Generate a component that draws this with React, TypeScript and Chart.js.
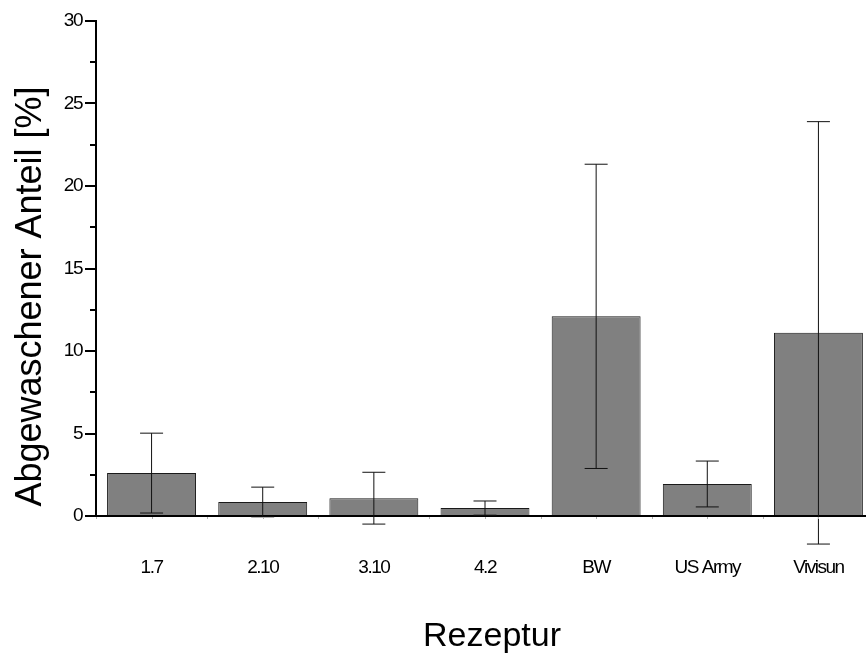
import React, { useEffect, useRef } from 'react';
import { Chart, registerables } from 'chart.js';

Chart.register(...registerables);

const categories: string[] = ['1.7', '2.10', '3.10', '4.2', 'BW', 'US Army', 'Vivisun'];
const means: number[] = [2.6, 0.85, 1.08, 0.48, 12.1, 1.94, 11.1];
const errors: number[] = [2.42, 0.9, 1.57, 0.43, 9.22, 1.39, 12.8];
const yMin = 0;
const yMax = 30;
const yStep = 5;
const yTitle = 'Abgewaschener Anteil [%]';
const xTitle = 'Rezeptur';

const FONT = "'Liberation Sans', Arial, Helvetica, sans-serif";

const errorBarsPlugin = {
  id: 'errorBars',
  afterDatasetsDraw(chart: any) {
    const { ctx, scales } = chart;
    const x = scales.x;
    const y = scales.y;
    const meta = chart.getDatasetMeta(0);
    ctx.save();
    // error bars
    ctx.strokeStyle = '#111';
    ctx.lineWidth = 1;
    meta.data.forEach((bar: any, i: number) => {
      const cx = bar.x;
      const top = y.getPixelForValue(means[i] + errors[i]);
      const bot = y.getPixelForValue(means[i] - errors[i]);
      const half = 11.5;
      ctx.beginPath();
      ctx.moveTo(cx, top);
      ctx.lineTo(cx, bot);
      ctx.moveTo(cx - half, top);
      ctx.lineTo(cx + half, top);
      ctx.moveTo(cx - half, bot);
      ctx.lineTo(cx + half, bot);
      ctx.stroke();
    });
    // minor ticks on y axis
    ctx.strokeStyle = '#000';
    ctx.lineWidth = 2;
    for (let v = yMin + yStep / 2; v < yMax; v += yStep) {
      const py = Math.round(y.getPixelForValue(v));
      ctx.beginPath();
      ctx.moveTo(y.right - 6, py);
      ctx.lineTo(y.right, py);
      ctx.stroke();
    }
    // faint ticks on x axis (centres and boundaries)
    ctx.strokeStyle = '#b0b0b0';
    ctx.lineWidth = 1;
    const step = x.width / categories.length;
    const by = y.getPixelForValue(yMin);
    categories.forEach((_c, i) => {
      const c = x.getPixelForValue(i);
      [c, c - step / 2].forEach((px) => {
        ctx.beginPath();
        ctx.moveTo(Math.round(px) + 0.5, by + 1);
        ctx.lineTo(Math.round(px) + 0.5, by + 3);
        ctx.stroke();
      });
    });

    // axis titles
    ctx.fillStyle = '#000';
    ctx.font = `36px ${FONT}`;
    ctx.textAlign = 'center';
    ctx.textBaseline = 'alphabetic';
    ctx.save();
    ctx.translate(41, (y.top + y.bottom) / 2 + 28);
    ctx.rotate(-Math.PI / 2);
    ctx.fillText(yTitle, 0, 0);
    ctx.restore();
    ctx.font = `34px ${FONT}`;
    ctx.fillText(xTitle, (x.left + x.right) / 2 + 7, 646);

    ctx.restore();
    ctx.letterSpacing = '-1.5px';
  },
  afterDraw(chart: any) {
    chart.ctx.letterSpacing = '0px';
  },
};

export default function App() {
  const ref = useRef<HTMLCanvasElement | null>(null);
  useEffect(() => {
    if (!ref.current) return;
    Chart.defaults.font.family = FONT;
    const chart = new Chart(ref.current, {
      type: 'bar',
      data: {
        labels: categories,
        datasets: [
          {
            data: means,
            backgroundColor: '#808080',
            borderColor: '#1a1a1a',
            borderWidth: 1,
            categoryPercentage: 0.8,
            barPercentage: 1,
          },
        ],
      },
      options: {
        animation: false,
        responsive: false,
        maintainAspectRatio: false,
        layout: { padding: { top: 21, left: 0, right: 0, bottom: 0 } },
        plugins: { legend: { display: false }, tooltip: { enabled: false } },
        scales: {
          x: {
            offset: true,
            grid: { display: false, drawTicks: true, tickLength: 40 },
            border: { display: true, color: '#000', width: 2 },
            ticks: {
              color: '#000',
              font: { family: FONT, size: 19 },
              padding: 0,
              maxRotation: 0,
              autoSkip: false,
              z: 1,
            },
            title: { display: false, text: xTitle },
            afterFit: (s: any) => {
              s.height = 139;
              s.paddingLeft = 0;
              s.paddingRight = 0;
            },
          },
          y: {
            min: yMin,
            max: yMax,
            ticks: {
              stepSize: yStep,
              color: '#000',
              font: { family: FONT, size: 19 },
              padding: 3,
              z: 1,
            },
            grid: {
              drawOnChartArea: false,
              drawTicks: true,
              tickLength: 11,
              color: '#000',
              lineWidth: 2,
            },
            border: { display: true, color: '#000', width: 2 },
            title: { display: false, text: yTitle },
            afterFit: (s: any) => {
              s.width = 96;
            },
          },
        },
      },
      plugins: [errorBarsPlugin],
    } as any);
    return () => chart.destroy();
  }, []);
  return (
    <div
      style={{
        position: 'fixed',
        left: 0,
        top: 0,
        width: 866,
        height: 655,
        overflow: 'hidden',
        background: '#fff',
      }}
    >
      <canvas ref={ref} width={874} height={655} style={{ display: 'block' }} />
    </div>
  );
}
